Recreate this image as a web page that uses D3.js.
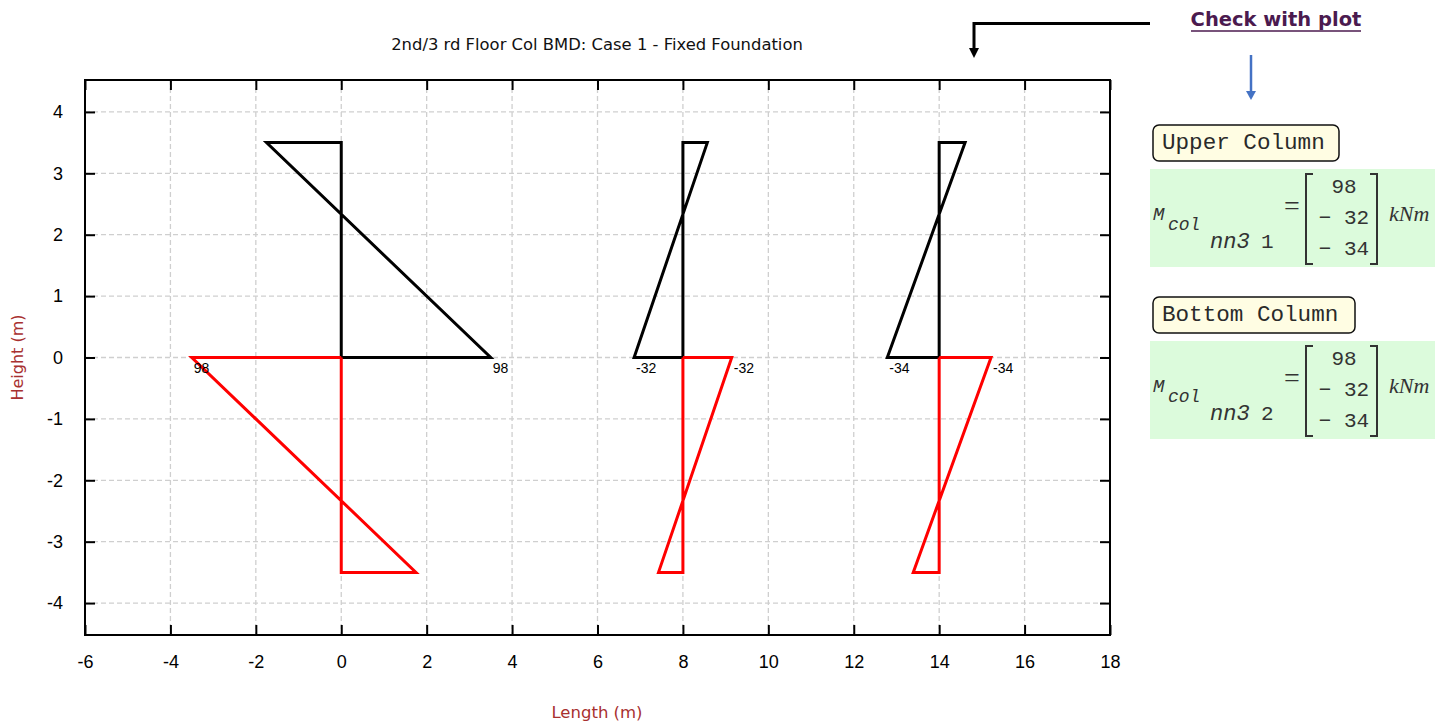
<!DOCTYPE html>
<html>
<head>
<meta charset="utf-8">
<script src="https://cdn.jsdelivr.net/npm/d3@7"></script>
<style>
  html, body { margin: 0; padding: 0; background: #fff; }
  svg { display: block; }
</style>
</head>
<body>
<svg id="chart" width="1450" height="725"></svg>
<script>
// Column centre-line positions along the frame (m)
const columnX = [0, 8, 14];
// Storey height of each column (m)
const storeyHeight = 3.5;
// Moments (kNm) for each column
const columnMoments = [98, -32, -34];
// Upper column: moment at base (y = 0) and at top (y = H)
const upperBase = [98, -32, -34];
const upperTop = [-49, 16, 17];
// Lower column: moment at top (y = 0) and at bottom (y = -H)
const lowerTop = [-98, 32, 34];
const lowerBottom = [49, -16, -17];
// Drawing scale: metres of offset per kNm
const momentScale = 3.5 / 98;

const xTicks = [-6, -4, -2, 0, 2, 4, 6, 8, 10, 12, 14, 16, 18];
const yTicks = [-4, -3, -2, -1, 0, 1, 2, 3, 4];

const svg = d3.select("#chart");
const plot = { left: 85, right: 1110, top: 80, bottom: 635 };

const x = d3.scaleLinear().domain([-6, 18]).range([plot.left, plot.right]);
const y = d3.scaleLinear().domain([-4.52, 4.52]).range([plot.bottom, plot.top]);

// grid
const grid = svg.append("g").attr("stroke", "#cfcfcf").attr("stroke-width", 1.3)
  .attr("stroke-dasharray", "5,3");
grid.selectAll("line.v").data(xTicks.slice(1, -1)).join("line")
  .attr("x1", d => x(d)).attr("x2", d => x(d))
  .attr("y1", plot.top).attr("y2", plot.bottom);
grid.selectAll("line.h").data(yTicks).join("line")
  .attr("x1", plot.left).attr("x2", plot.right)
  .attr("y1", d => y(d)).attr("y2", d => y(d));

// axes with inward ticks on all four sides
const tickFont = "Liberation Sans, Arial, sans-serif";
const plainNum = d => String(d);
function styleAxis(g) {
  g.select(".domain").remove();
  g.selectAll(".tick line").attr("stroke", "#000").attr("stroke-width", 2);
  g.selectAll(".tick text").attr("font-family", tickFont).attr("font-size", 18).attr("fill", "#000");
}
svg.append("g").attr("transform", `translate(0,${plot.bottom})`)
  .call(d3.axisBottom(x).tickValues(xTicks).tickFormat(plainNum).tickSizeInner(-10).tickPadding(20))
  .call(styleAxis);
svg.append("g").attr("transform", `translate(0,${plot.top})`)
  .call(d3.axisTop(x).tickValues(xTicks).tickFormat("").tickSizeInner(-10))
  .call(styleAxis);
svg.append("g").attr("transform", `translate(${plot.left},0)`)
  .call(d3.axisLeft(y).tickValues(yTicks).tickFormat(plainNum).tickSizeInner(-10).tickPadding(22))
  .call(styleAxis);
svg.append("g").attr("transform", `translate(${plot.right},0)`)
  .call(d3.axisRight(y).tickValues(yTicks).tickFormat("").tickSizeInner(-10))
  .call(styleAxis);

// frame
svg.append("rect").attr("x", plot.left).attr("y", plot.top)
  .attr("width", plot.right - plot.left).attr("height", plot.bottom - plot.top)
  .attr("fill", "none").attr("stroke", "#000").attr("stroke-width", 2);

// bending moment diagrams
const line = d3.line().x(d => x(d[0])).y(d => y(d[1]));
const upperShapes = columnX.map((c, i) => [
  [c, 0], [c, storeyHeight], [c + upperTop[i] * momentScale, storeyHeight],
  [c + upperBase[i] * momentScale, 0], [c, 0]
]);
const lowerShapes = columnX.map((c, i) => [
  [c, 0], [c + lowerTop[i] * momentScale, 0], [c + lowerBottom[i] * momentScale, -storeyHeight],
  [c, -storeyHeight], [c, 0]
]);
svg.append("g").selectAll("path").data(upperShapes).join("path")
  .attr("d", line).attr("fill", "none").attr("stroke", "#000")
  .attr("stroke-width", 3).attr("stroke-linejoin", "miter");
svg.append("g").selectAll("path").data(lowerShapes).join("path")
  .attr("d", line).attr("fill", "none").attr("stroke", "#ff0000")
  .attr("stroke-width", 3).attr("stroke-linejoin", "miter");

// value labels at the floor line
const labelData = [];
columnX.forEach((c, i) => {
  labelData.push({ px: c + upperBase[i] * momentScale, v: columnMoments[i] });
  labelData.push({ px: c + lowerTop[i] * momentScale, v: columnMoments[i] });
});
svg.append("g").selectAll("text").data(labelData).join("text")
  .attr("x", d => x(d.px) + 2).attr("y", y(0) + 15)
  .attr("font-family", tickFont).attr("font-size", 14).attr("fill", "#000")
  .text(d => d.v);

// titles
const uiFont = "DejaVu Sans, Verdana, sans-serif";
svg.append("text").attr("x", 597).attr("y", 50).attr("text-anchor", "middle")
  .attr("font-family", uiFont).attr("font-size", 16.4).attr("fill", "#111")
  .text("2nd/3 rd Floor Col BMD: Case 1 - Fixed Foundation");
svg.append("text").attr("x", 597).attr("y", 718).attr("text-anchor", "middle")
  .attr("font-family", uiFont).attr("font-size", 16.5).attr("fill", "#a8302f")
  .text("Length (m)");
svg.append("text").attr("transform", `translate(23,${y(0)}) rotate(-90)`).attr("text-anchor", "middle")
  .attr("font-family", uiFont).attr("font-size", 16).attr("fill", "#a8302f")
  .text("Height (m)");

// "Check with plot" annotation
svg.append("text").attr("x", 1276).attr("y", 26).attr("text-anchor", "middle")
  .attr("font-family", uiFont).attr("font-weight", "bold").attr("font-size", 19.5)
  .attr("fill", "#4b1a4f").text("Check with plot");
svg.append("line").attr("x1", 1191).attr("x2", 1361).attr("y1", 31).attr("y2", 31)
  .attr("stroke", "#4b1a4f").attr("stroke-width", 1.5);

// bent black arrow
svg.append("path").attr("d", "M1150,23.5 H974 V50")
  .attr("fill", "none").attr("stroke", "#000").attr("stroke-width", 3);
svg.append("path").attr("d", "M969,48 L979,48 L974,58 Z").attr("fill", "#000");
// blue arrow
svg.append("line").attr("x1", 1251).attr("x2", 1251).attr("y1", 55).attr("y2", 92)
  .attr("stroke", "#4472c4").attr("stroke-width", 2.5);
svg.append("path").attr("d", "M1246,91 L1256,91 L1251,100 Z").attr("fill", "#4472c4");

// result blocks
const monoFont = "Liberation Mono, Courier New, monospace";
const serifFont = "Liberation Serif, Times New Roman, serif";
const blocks = [
  { title: "Upper Column", top: 125, boxW: 186, idx: "1" },
  { title: "Bottom Column", top: 297, boxW: 202, idx: "2" }
];
blocks.forEach(b => {
  const g = svg.append("g");
  g.append("rect").attr("x", 1153).attr("y", b.top).attr("width", b.boxW).attr("height", 36)
    .attr("rx", 6).attr("fill", "#fffde3").attr("stroke", "#111").attr("stroke-width", 1.5);
  g.append("text").attr("x", 1162).attr("y", b.top + 24)
    .attr("font-family", monoFont).attr("font-size", 22.6).attr("fill", "#2a2a2a").text(b.title);

  const gy = b.top + 44;
  g.append("rect").attr("x", 1150).attr("y", gy).attr("width", 285).attr("height", 98)
    .attr("fill", "#dcfbdc");
  g.append("text").attr("x", 1153).attr("y", gy + 51)
    .attr("font-family", monoFont).attr("font-style", "italic").attr("font-size", 19).attr("fill", "#333").text("M");
  g.append("text").attr("x", 1168).attr("y", gy + 61)
    .attr("font-family", monoFont).attr("font-style", "italic").attr("font-size", 18).attr("fill", "#333").text("col");
  g.append("text").attr("x", 1210).attr("y", gy + 79)
    .attr("font-family", monoFont).attr("font-style", "italic").attr("font-size", 22).attr("fill", "#333").text("nn3");
  g.append("text").attr("x", 1261).attr("y", gy + 79)
    .attr("font-family", monoFont).attr("font-size", 21).attr("fill", "#333").text(b.idx);
  g.append("text").attr("x", 1292).attr("y", gy + 46).attr("text-anchor", "middle")
    .attr("font-family", serifFont).attr("font-size", 28).attr("fill", "#333").text("=");
  // brackets
  g.append("path").attr("d", `M1313,${gy + 5} H1306 V${gy + 95} H1313`)
    .attr("fill", "none").attr("stroke", "#333").attr("stroke-width", 2);
  g.append("path").attr("d", `M1370,${gy + 5} H1377 V${gy + 95} H1370`)
    .attr("fill", "none").attr("stroke", "#333").attr("stroke-width", 2);
  g.selectAll("text.val").data(columnMoments).join("text")
    .attr("x", 1344).attr("y", (d, i) => gy + 24 + i * 31).attr("text-anchor", "middle")
    .attr("font-family", monoFont).attr("font-size", 21).attr("fill", "#333")
    .text(d => d < 0 ? "\u2212 " + Math.abs(d) : d);
  g.append("text").attr("x", 1389).attr("y", gy + 52)
    .attr("font-family", serifFont).attr("font-style", "italic").attr("font-size", 22).attr("fill", "#333").text("kNm");
});
</script>
</body>
</html>
